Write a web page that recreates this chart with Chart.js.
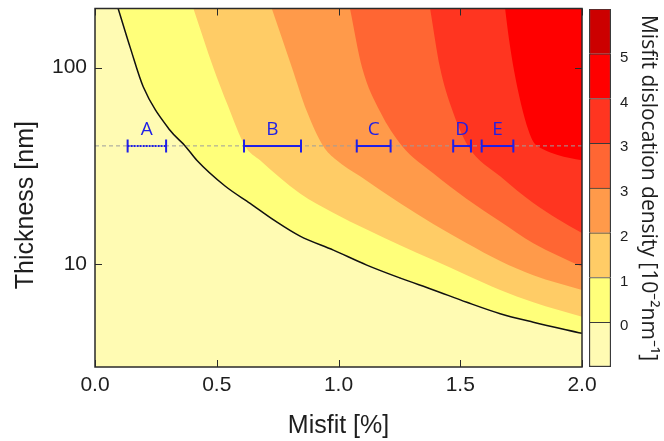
<!DOCTYPE html>
<html>
<head>
<meta charset="utf-8">
<script src="https://cdn.jsdelivr.net/npm/chart.js@4.4.1/dist/chart.umd.min.js"></script>
<style>
  html, body { margin: 0; padding: 0; background: #fff; }
  #wrap { position: relative; width: 664px; height: 441px; }
  #wrap canvas { position: absolute; left: 0; top: 0; }
</style>
</head>
<body>
<div id="wrap">
  <canvas id="plot" width="664" height="441"></canvas>
  <canvas id="scale" width="664" height="441"></canvas>
</div>
<script>
// Contour edges of the dislocation density map, [misfit %, thickness nm].
// edge0 is the critical thickness (drawn black), the others are the level lines.
const edge0 = [[0.095, 200], [0.146, 125], [0.198, 80], [0.308, 48], [0.370, 40], [0.418, 33.8],
  [0.534, 25], [0.637, 20.4], [0.740, 16.6], [0.842, 13.9], [0.979, 11.8], [1.116, 9.9],
  [1.254, 8.5], [1.390, 7.4], [1.527, 6.4], [1.664, 5.6], [1.80, 5.07], [2.0, 4.45]];
const edge1 = [[0.404, 200], [0.486, 100], [0.546, 64], [0.616, 40], [0.678, 33.8], [0.842, 22.9],
  [0.978, 18.3], [1.116, 15.0], [1.253, 12.5], [1.389, 10.5], [1.527, 8.8], [1.664, 7.4],
  [1.80, 6.4], [2.0, 5.4]];
const edge2 = [[0.726, 200], [0.809, 100], [0.870, 60], [0.937, 40], [0.990, 34], [1.089, 28],
  [1.253, 20.4], [1.389, 16], [1.527, 12.8], [1.664, 10.4], [1.80, 8.8], [2.0, 7.4]];
const edge3 = [[1.047, 200], [1.097, 100], [1.170, 60], [1.261, 40], [1.389, 29], [1.527, 21.5],
  [1.664, 16.5], [1.80, 12.8], [2.0, 9.7]];
const edge4 = [[1.376, 200], [1.417, 100], [1.465, 62], [1.532, 40], [1.664, 28], [1.80, 20.5],
  [1.90, 17], [2.0, 14.4]];
const edge5 = [[1.684, 200], [1.700, 140], [1.722, 95], [1.750, 65], [1.780, 48], [1.80, 42],
  [1.84, 38.5], [1.90, 36], [2.0, 33.8]];

// colour of each band, lowest first (last one only shows in the colour bar)
const bandColors = ['#fffbb3', '#ffff7a', '#ffcc66', '#ff9a4a', '#ff6633', '#ff3520', '#ff0000', '#cc0000'];
const scaleLabels = ['0', '1', '2', '3', '3', '4', '5'];

// measured misfit ranges of the samples, all at 40 nm
const sampleNames = ['A', 'B', 'C', 'D', 'E'];
const sampleLow = [0.134, 0.612, 1.075, 1.471, 1.588];
const sampleHigh = [0.292, 0.846, 1.214, 1.544, 1.718];
const sampleThickness = 40;

// axis ticks
const xMajor = [0, 0.5, 1, 1.5, 2];
const xMajorLabels = ['0.0', '0.5', '1.0', '1.5', '2.0'];
const xMinor = [0.25, 0.75, 1.25, 1.75];
const yMajor = [10, 100];
const yMajorLabels = ['10', '100'];
const yMinor = [3, 4, 5, 6, 7, 8, 9, 20, 30, 40, 50, 60, 70, 80, 90, 200];

const axisFont = 'Liberation Sans, Arial, sans-serif';
const blue = '#1f1fe6';

const edges = [edge0, edge1, edge2, edge3, edge4, edge5];
const bandSets = edges.map((pts, i) => ({
  data: pts.map(([x, y]) => ({ x, y })),
  fill: 'end',
  backgroundColor: bandColors[i + 1],
  borderColor: i === 0 ? '#111' : 'rgba(0,0,0,0)',
  borderWidth: i === 0 ? 1.5 : 0,
  pointRadius: 0,
  cubicInterpolationMode: 'monotone',
  order: 10 - i
}));

const guideSet = {
  data: [{ x: 0, y: sampleThickness }, { x: 2, y: sampleThickness }],
  borderColor: '#9d9d9d',
  borderWidth: 1,
  borderDash: [4, 3],
  pointRadius: 0,
  fill: false,
  order: 1
};

const sampleSets = sampleNames.map((name, i) => ({
  data: [{ x: sampleLow[i], y: sampleThickness }, { x: sampleHigh[i], y: sampleThickness }],
  borderColor: blue,
  borderWidth: 2,
  borderDash: i === 0 ? [2, 1] : [],
  pointStyle: 'line',
  rotation: 90,
  pointRadius: 6.5,
  pointBorderWidth: 2,
  pointBorderColor: blue,
  fill: false,
  order: 0
}));

// keep tick labels from pushing the plot area around
const noEdgePadding = s => {
  s.paddingTop = 0; s.paddingBottom = 0; s.paddingLeft = 0; s.paddingRight = 0;
};

// pale background, frame and inward ticks on all four sides
const plotFrame = {
  id: 'plotFrame',
  beforeDraw(chart) {
    const { ctx, chartArea: a } = chart;
    ctx.save();
    ctx.fillStyle = bandColors[0];
    ctx.fillRect(a.left, a.top, a.right - a.left, a.bottom - a.top);
    ctx.restore();
  },
  afterDraw(chart) {
    const { ctx, chartArea: a, scales: { x, y } } = chart;
    ctx.save();
    ctx.strokeStyle = '#2a2a2a';
    ctx.lineWidth = 1;
    ctx.beginPath();
    x.ticks.forEach(t => {
      const px = Math.round(x.getPixelForValue(t.value)) + 0.5;
      const len = xMajor.includes(t.value) ? 7 : 4;
      ctx.moveTo(px, a.bottom); ctx.lineTo(px, a.bottom - len);
      ctx.moveTo(px, a.top); ctx.lineTo(px, a.top + len);
    });
    y.ticks.forEach(t => {
      const py = Math.round(y.getPixelForValue(t.value)) + 0.5;
      const len = yMajor.includes(t.value) ? 7 : 4;
      ctx.moveTo(a.left, py); ctx.lineTo(a.left + len, py);
      ctx.moveTo(a.right, py); ctx.lineTo(a.right - len, py);
    });
    ctx.stroke();
    ctx.lineWidth = 1.5;
    ctx.strokeRect(a.left, a.top, a.right - a.left, a.bottom - a.top);
    ctx.restore();
  }
};

// sample letters above each range bar
const sampleLetters = {
  id: 'sampleLetters',
  afterDatasetsDraw(chart) {
    const { ctx, scales: { x, y } } = chart;
    ctx.save();
    ctx.fillStyle = blue;
    ctx.font = '19px "Open Sans", sans-serif';
    ctx.textAlign = 'center';
    ctx.textBaseline = 'alphabetic';
    const base = y.getPixelForValue(sampleThickness) - 11;
    sampleNames.forEach((name, i) => {
      ctx.fillText(name, x.getPixelForValue((sampleLow[i] + sampleHigh[i]) / 2), base);
    });
    ctx.restore();
  }
};

new Chart(document.getElementById('plot'), {
  type: 'line',
  data: { datasets: [...bandSets, guideSet, ...sampleSets] },
  options: {
    responsive: false,
    animation: false,
    devicePixelRatio: 1,
    layout: { padding: { top: 8, right: 82, left: 0, bottom: 0 } },
    plugins: { legend: { display: false }, tooltip: { enabled: false } },
    scales: {
      x: {
        type: 'linear',
        min: 0,
        max: 2,
        afterBuildTicks: s => { s.ticks = [...xMajor, ...xMinor].sort((a, b) => a - b).map(v => ({ value: v })); },
        afterFit: s => { s.height = 74; noEdgePadding(s); },
        grid: { display: false, drawTicks: false },
        border: { display: false },
        ticks: {
          autoSkip: false,
          maxRotation: 0,
          padding: 6,
          color: '#1e1e1e',
          font: { family: axisFont, size: 21 },
          callback: v => {
            const i = xMajor.indexOf(v);
            return i < 0 ? null : xMajorLabels[i];
          }
        },
        title: {
          display: true,
          text: 'Misfit [%]',
          color: '#1e1e1e',
          font: { family: axisFont, size: 25 },
          padding: { top: 0, bottom: 0 }
        }
      },
      y: {
        type: 'logarithmic',
        min: 3,
        max: 200,
        afterBuildTicks: s => { s.ticks = [...yMajor, ...yMinor].sort((a, b) => a - b).map(v => ({ value: v })); },
        afterFit: s => { s.width = 95; noEdgePadding(s); },
        grid: { display: false, drawTicks: false },
        border: { display: false },
        ticks: {
          autoSkip: false,
          padding: 8,
          color: '#1e1e1e',
          font: { family: axisFont, size: 21 },
          callback: v => {
            const i = yMajor.indexOf(v);
            return i < 0 ? null : yMajorLabels[i];
          }
        },
        title: {
          display: true,
          // trailing spaces nudge the title down along the axis
          text: 'Thickness [nm]\u00a0\u00a0\u00a0\u00a0\u00a0',
          color: '#1e1e1e',
          font: { family: axisFont, size: 25 },
          padding: { top: 11, bottom: 0 }
        }
      }
    }
  },
  plugins: [plotFrame, sampleLetters]
});

// colour bar: one stacked segment per band
new Chart(document.getElementById('scale'), {
  type: 'bar',
  data: {
    labels: [''],
    datasets: bandColors.map((c, i) => ({
      data: [1],
      backgroundColor: c,
      borderColor: '#3a3a3a',
      borderWidth: { top: 1, bottom: i === 0 ? 1.5 : 0, left: 1.5, right: 1.5 },
      borderSkipped: false,
      barPercentage: 1,
      categoryPercentage: 1
    }))
  },
  options: {
    responsive: false,
    animation: false,
    devicePixelRatio: 1,
    layout: { padding: { left: 589, top: 9, bottom: 74, right: 0 } },
    plugins: { legend: { display: false }, tooltip: { enabled: false } },
    scales: {
      x: { display: false, stacked: true },
      y: {
        stacked: true,
        position: 'right',
        min: 0,
        max: bandColors.length,
        afterBuildTicks: s => { s.ticks = scaleLabels.map((l, i) => ({ value: i + 1 })); },
        afterFit: s => { s.width = 53; noEdgePadding(s); },
        grid: { display: false, drawTicks: false },
        border: { display: false },
        ticks: {
          autoSkip: false,
          padding: 9,
          labelOffset: 4,
          color: '#1e1e1e',
          font: { family: axisFont, size: 15 },
          callback: v => scaleLabels[v - 1]
        },
        title: {
          display: true,
          text: 'Misfit dislocation density [10\u207b\u00b2nm\u207b\u00b9]',
          color: '#1e1e1e',
          font: { family: '"Open Sans", sans-serif', size: 21 },
          padding: { top: 3, bottom: 0 }
        }
      }
    }
  }
});
</script>
</body>
</html>
